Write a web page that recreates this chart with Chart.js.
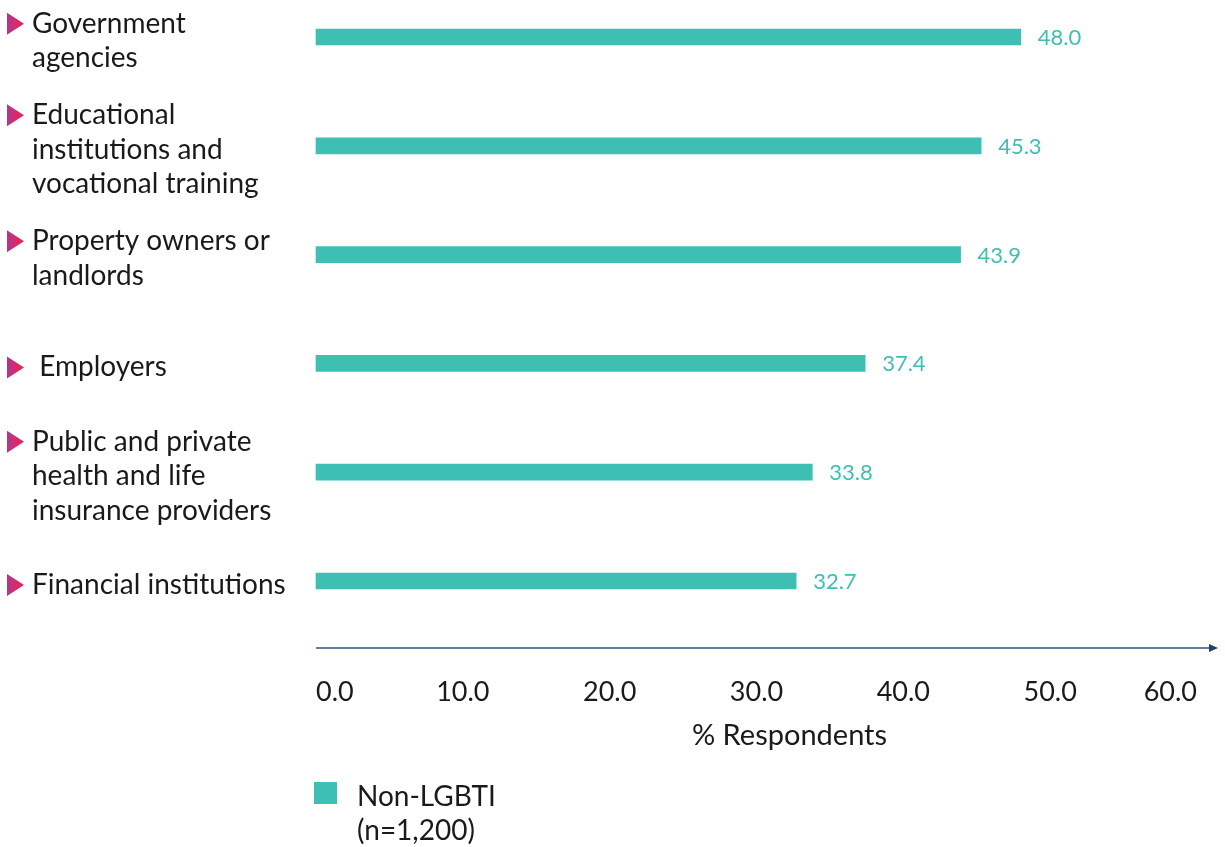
<!DOCTYPE html>
<html>
<head>
<meta charset="utf-8">
<script src="https://cdn.jsdelivr.net/npm/chart.js@4"></script>
<style>
  html, body { margin: 0; padding: 0; background: #fff; }
  #wrap { width: 1225px; height: 847px; }
</style>
</head>
<body>
<div id="wrap"><canvas id="chart" width="1225" height="847"></canvas></div>
<script>
var categories = [
    ["Government", "agencies"],
    ["Educational", "institutions and", "vocational training"],
    ["Property owners or", "landlords"],
    [" Employers"],
    ["Public and private", "health and life", "insurance providers"],
    ["Financial institutions"]
];
var nonLgbti = [48.0, 45.3, 43.9, 37.4, 33.8, 32.7];
var xTicks = [0, 10, 20, 30, 40, 50, 60];
var seriesLabel = ["Non-LGBTI", "(n=1,200)"];
var axisTitle = "% Respondents";

var teal = '#3dbfb4';
var navy = '#2b5478';
var textColor = '#1a1a1a';
var fontFamily = 'Lato, "Open Sans", sans-serif';
var labelLine = 34.5;
var labelShift = 4;

var extras = {
    id: 'extras',
    afterDatasetsDraw: function (chart) {
        var ctx = chart.ctx;
        var area = chart.chartArea;
        var yScale = chart.scales.y;
        var xScale = chart.scales.x;
        ctx.save();

        // value labels next to bars
        ctx.font = '22px ' + fontFamily;
        ctx.fillStyle = teal;
        ctx.textBaseline = 'middle';
        ctx.textAlign = 'left';
        chart.getDatasetMeta(0).data.forEach(function (bar, i) {
            ctx.fillText(nonLgbti[i].toFixed(1), bar.x + 17, bar.y + 1);
        });

        // pink triangle markers before each category
        categories.forEach(function (lines, i) {
            var cy = yScale.getPixelForValue(i) + labelShift - (lines.length - 1) / 2 * labelLine;
            var g = ctx.createLinearGradient(7, 0, 24, 0);
            g.addColorStop(0, '#a83a90');
            g.addColorStop(0.5, '#d92a6a');
            g.addColorStop(1, '#e8215a');
            ctx.fillStyle = g;
            ctx.beginPath();
            ctx.moveTo(7, cy - 11);
            ctx.lineTo(24, cy);
            ctx.lineTo(7, cy + 11);
            ctx.closePath();
            ctx.fill();
        });

        // axis line with arrow
        var ay = 648;
        ctx.strokeStyle = navy;
        ctx.lineWidth = 1.5;
        ctx.beginPath();
        ctx.moveTo(area.left, ay);
        ctx.lineTo(1212, ay);
        ctx.stroke();
        ctx.fillStyle = '#1d416a';
        ctx.beginPath();
        ctx.moveTo(1218, ay);
        ctx.lineTo(1209, ay - 4);
        ctx.lineTo(1209, ay + 4);
        ctx.closePath();
        ctx.fill();

        // axis title
        ctx.font = '29px ' + fontFamily;
        ctx.fillStyle = textColor;
        ctx.textAlign = 'center';
        ctx.fillText(axisTitle, (xScale.left + xScale.right) / 2 + 33, 736);

        // legend
        ctx.fillStyle = teal;
        ctx.fillRect(314, 782, 23, 22);
        ctx.fillStyle = textColor;
        ctx.textAlign = 'left';
        ctx.font = '28px ' + fontFamily;
        ctx.fillText(seriesLabel[0], 357, 797);
        ctx.fillText(seriesLabel[1], 357, 831);

        ctx.restore();
    }
};

var ctx = document.getElementById("chart").getContext("2d");
var chart = new Chart(ctx, {
    type: 'bar',
    data: {
        labels: categories,
        datasets: [{
            label: seriesLabel.join(' '),
            data: nonLgbti,
            backgroundColor: teal,
            barThickness: 16,
            clip: false
        }]
    },
    options: {
        indexAxis: 'y',
        responsive: false,
        animation: false,
        devicePixelRatio: 1,
        layout: { padding: { left: 32, top: 37, right: 28, bottom: 96 } },
        plugins: {
            legend: { display: false },
            tooltip: { enabled: false }
        },
        scales: {
            x: {
                min: 0,
                max: 60,
                afterBuildTicks: function (scale) {
                    scale.ticks = xTicks.map(function (v) { return { value: v }; });
                },
                afterFit: function (scale) {
                    scale.paddingLeft = 0;
                    scale.paddingRight = 0;
                    scale.height = 170;
                },
                grid: { display: false, drawTicks: false },
                border: { display: false },
                ticks: {
                    align: 'inner',
                    padding: 95,
                    color: textColor,
                    font: { family: fontFamily, size: 27, lineHeight: 1.2 },
                    callback: function (v) { return Number(v).toFixed(1); }
                }
            },
            y: {
                offset: false,
                grid: { display: false, drawTicks: false },
                border: { display: false },
                afterFit: function (scale) {
                    scale.width = 284;
                    scale.paddingTop = 0;
                    scale.paddingBottom = 0;
                },
                ticks: {
                    autoSkip: false,
                    crossAlign: 'far',
                    padding: 0,
                    labelOffset: labelShift,
                    color: textColor,
                    font: { family: fontFamily, size: 28, lineHeight: labelLine / 28 }
                }
            }
        }
    },
    plugins: [extras]
});
</script>
</body>
</html>
